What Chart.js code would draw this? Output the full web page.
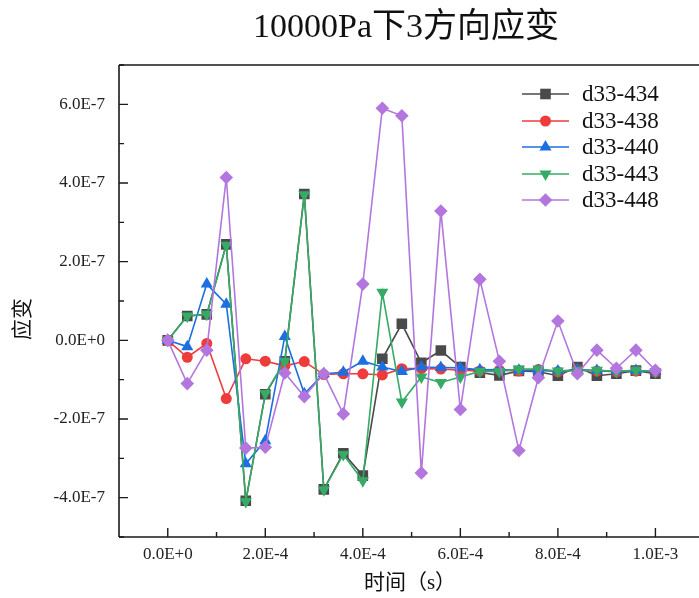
<!DOCTYPE html>
<html>
<head>
<meta charset="utf-8">
<script src="https://cdn.jsdelivr.net/npm/chart.js@4/dist/chart.umd.min.js"></script>
<style>
body { margin: 0; background: #fff; }
#wrap { width: 699px; height: 598px; }
</style>
</head>
<body>
<div id="wrap"><canvas id="chart"></canvas></div>
<script>
// time in units of 1E-4 s, strain in units of 1E-7
const times = [0, 0.4, 0.8, 1.2, 1.6, 2.0, 2.4, 2.8, 3.2, 3.6, 4.0, 4.4, 4.8, 5.2, 5.6, 6.0, 6.4, 6.8, 7.2, 7.6, 8.0, 8.4, 8.8, 9.2, 9.6, 10.0];

const d434 = [0, 0.62, 0.66, 2.44, -4.08, -1.37, -0.53, 3.72, -3.79, -2.87, -3.44, -0.47, 0.42, -0.57, -0.26, -0.68, -0.82, -0.89, -0.78, -0.8, -0.9, -0.68, -0.9, -0.85, -0.77, -0.85];
const d438 = [0, -0.43, -0.08, -1.48, -0.47, -0.53, -0.65, -0.54, -0.87, -0.85, -0.85, -0.88, -0.72, -0.72, -0.73, -0.76, -0.78, -0.76, -0.78, -0.74, -0.8, -0.75, -0.78, -0.8, -0.78, -0.8];
const d440 = [0, -0.16, 1.43, 0.92, -3.14, -2.55, 0.1, -1.36, -0.85, -0.81, -0.53, -0.68, -0.79, -0.68, -0.69, -0.7, -0.75, -0.74, -0.76, -0.77, -0.78, -0.75, -0.77, -0.78, -0.77, -0.79];
const d443 = [0, 0.62, 0.66, 2.42, -4.1, -1.35, -0.53, 3.7, -3.8, -2.9, -3.57, 1.22, -1.57, -0.93, -1.07, -0.93, -0.79, -0.79, -0.73, -0.73, -0.78, -0.77, -0.76, -0.79, -0.76, -0.8];
const d448 = [0, -1.1, -0.25, 4.14, -2.74, -2.72, -0.83, -1.43, -0.85, -1.87, 1.43, 5.9, 5.71, -3.37, 3.29, -1.76, 1.55, -0.53, -2.8, -0.95, 0.49, -0.85, -0.25, -0.71, -0.25, -0.76];

const seriesNames = ["d33-434", "d33-438", "d33-440", "d33-443", "d33-448"];

const xTicks = [0, 2, 4, 6, 8, 10];
const xTickLabels = ["0.0E+0", "2.0E-4", "4.0E-4", "6.0E-4", "8.0E-4", "1.0E-3"];
const yTicks = [-4, -2, 0, 2, 4, 6];
const yTickLabels = ["-4.0E-7", "-2.0E-7", "0.0E+0", "2.0E-7", "4.0E-7", "6.0E-7"];

const titleText = "10000Pa下3方向应变";
const xTitle = "时间（s）";
const yTitle = "应变";

const serif = "'Liberation Serif', 'DejaVu Serif', 'Noto Sans CJK SC', serif";

const styles = [
  { color: "#4a4a4a", point: "rect", rot: 0, r: 7.5 },
  { color: "#ee3b3b", point: "circle", rot: 0, r: 5.5 },
  { color: "#1b6fe0", point: "triangle", rot: 0, r: 7 },
  { color: "#35ab66", point: "triangle", rot: 180, r: 7 },
  { color: "#b276de", point: "rectRot", rot: 0, r: 6.8 }
];

function pts(arr) {
  return arr.map((v, i) => ({ x: times[i], y: v }));
}

const allData = [d434, d438, d440, d443, d448];

const datasets = allData.map((arr, k) => ({
  label: seriesNames[k],
  data: pts(arr),
  borderColor: styles[k].color,
  backgroundColor: styles[k].color,
  borderWidth: 1.6,
  pointStyle: styles[k].point,
  rotation: styles[k].rot,
  pointRadius: styles[k].r,
  pointHoverRadius: styles[k].r,
  pointBorderWidth: 0,
  tension: 0,
  order: 5 - k
}));

function marker(ctx, s, x, y) {
  const r = s.r;
  ctx.beginPath();
  if (s.point === "rect") {
    const h = r * Math.SQRT1_2;
    ctx.rect(x - h, y - h, 2 * h, 2 * h);
  } else if (s.point === "circle") {
    ctx.arc(x, y, r, 0, Math.PI * 2);
  } else if (s.point === "triangle") {
    for (let k = 0; k < 3; k++) {
      const a = s.rot * Math.PI / 180 + k * 2 * Math.PI / 3;
      const px = x + Math.sin(a) * r, py = y - Math.cos(a) * r;
      if (k === 0) ctx.moveTo(px, py); else ctx.lineTo(px, py);
    }
    ctx.closePath();
  } else {
    ctx.moveTo(x, y - r);
    ctx.lineTo(x + r, y);
    ctx.lineTo(x, y + r);
    ctx.lineTo(x - r, y);
    ctx.closePath();
  }
  ctx.fillStyle = s.color;
  ctx.fill();
}

// frame, inward ticks, titles, legend
const decor = {
  id: "decor",
  afterDraw(chart) {
    const ctx = chart.ctx;
    const a = chart.chartArea;
    const xs = chart.scales.x, ys = chart.scales.y;
    ctx.save();
    ctx.strokeStyle = "#1a1a1a";
    ctx.lineWidth = 1.6;
    ctx.beginPath();
    ctx.moveTo(a.left, a.top); ctx.lineTo(a.right + 8, a.top);
    ctx.moveTo(a.left, a.top); ctx.lineTo(a.left, a.bottom);
    ctx.moveTo(a.left, a.bottom); ctx.lineTo(a.right + 8, a.bottom);
    ctx.stroke();

    ctx.lineWidth = 1.4;
    ctx.beginPath();
    xTicks.forEach((v, i) => {
      const px = xs.getPixelForValue(v);
      ctx.moveTo(px, a.bottom); ctx.lineTo(px, a.bottom - 9);
      if (i < xTicks.length - 1) {
        const m = xs.getPixelForValue((v + xTicks[i + 1]) / 2);
        ctx.moveTo(m, a.bottom); ctx.lineTo(m, a.bottom - 5);
      }
    });
    yTicks.forEach((v, i) => {
      const py = ys.getPixelForValue(v);
      ctx.moveTo(a.left, py); ctx.lineTo(a.left + 9, py);
      const lo = ys.getPixelForValue(v - 1);
      ctx.moveTo(a.left, lo); ctx.lineTo(a.left + 5, lo);
      if (i === yTicks.length - 1) {
        const hi = ys.getPixelForValue(v + 1);
        ctx.moveTo(a.left, hi); ctx.lineTo(a.left + 5, hi);
      }
    });
    ctx.stroke();

    ctx.fillStyle = "#111";
    ctx.textAlign = "center";
    ctx.textBaseline = "middle";
    ctx.font = "34px " + serif;
    ctx.fillText(titleText, 406, 28);
    ctx.font = "21px " + serif;
    ctx.fillText(xTitle, 410, 583);
    ctx.save();
    ctx.translate(23, 319);
    ctx.rotate(-Math.PI / 2);
    ctx.fillText(yTitle, 0, 0);
    ctx.restore();

    // legend
    ctx.textAlign = "left";
    ctx.font = "23px " + serif;
    const rows = [94, 121, 147, 174, 200];
    styles.forEach((s, k) => {
      const y = rows[k];
      ctx.strokeStyle = s.color;
      ctx.lineWidth = 1.6;
      ctx.beginPath();
      ctx.moveTo(522, y); ctx.lineTo(569, y);
      ctx.stroke();
      marker(ctx, s, 545.5, y);
      ctx.fillStyle = "#111";
      ctx.fillText(seriesNames[k], 582, y + 1);
    });
    ctx.restore();
  }
};

const tickFont = { family: serif, size: 17 };

new Chart(document.getElementById("chart"), {
  type: "line",
  data: { datasets: datasets },
  plugins: [decor],
  options: {
    responsive: true,
    maintainAspectRatio: false,
    animation: false,
    devicePixelRatio: 1,
    layout: { padding: { top: 65, left: 0, right: 0, bottom: 0 } },
    plugins: {
      legend: { display: false },
      title: { display: false },
      tooltip: { enabled: false }
    },
    scales: {
      x: {
        type: "linear",
        min: -1,
        max: 10.74,
        afterBuildTicks: s => { s.ticks = xTicks.map(v => ({ value: v })); },
        afterFit: s => { s.height = 61; },
        grid: { display: false, drawTicks: false },
        border: { display: false },
        ticks: {
          callback: (v, i) => xTickLabels[i],
          font: tickFont,
          color: "#222",
          padding: 7,
          maxRotation: 0,
          autoSkip: false
        }
      },
      y: {
        type: "linear",
        min: -5,
        max: 7,
        afterBuildTicks: s => { s.ticks = yTicks.map(v => ({ value: v })); },
        afterFit: s => { s.width = 119; },
        grid: { display: false, drawTicks: false },
        border: { display: false },
        ticks: {
          callback: (v, i) => yTickLabels[i],
          font: tickFont,
          color: "#222",
          padding: 14,
          autoSkip: false
        }
      }
    }
  }
});
</script>
</body>
</html>
